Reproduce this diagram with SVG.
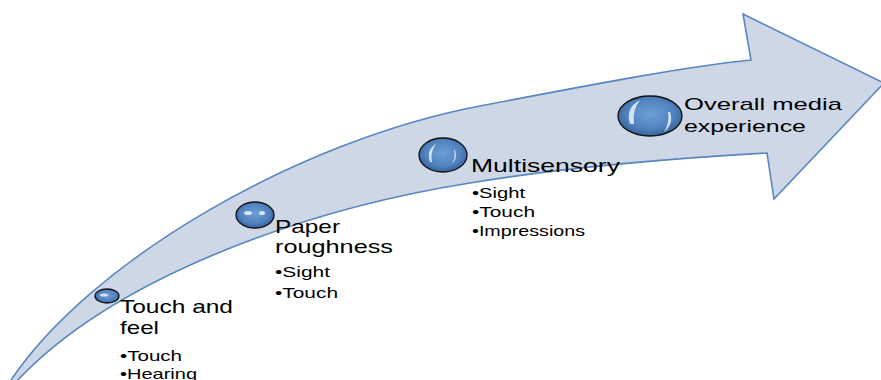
<svg xmlns="http://www.w3.org/2000/svg" width="881" height="380" viewBox="0 0 881 380">
<defs>
<radialGradient id="orb" cx="50%" cy="45%" r="55%">
<stop offset="0" stop-color="#6F9FD6"/>
<stop offset="0.7" stop-color="#4F81BD"/>
<stop offset="1" stop-color="#35619A"/>
</radialGradient>
</defs>
<style>
.arrow{fill:#CDD7E6;stroke:#5A86C0;stroke-width:1.6;stroke-linejoin:miter}
.orb{fill:url(#orb);stroke:#111;stroke-width:1.3}
.hl{fill:#FFFFFF;opacity:0.75}
.t{font-family:"Liberation Sans",Arial,sans-serif;fill:#000}
.h{font-size:19px}
.b{font-size:15px}
</style>
<g id="arrow">
<path class="arrow" d="M9,383 C90,260 300,140 480,106 C600,83 690,66 751,60 L743,14 L884,83 L774,199 L767,153 C680,158 560,168 470,183 C300,210 110,280 15,383 Z"/>
</g>
<g id="node-touch-feel">
<ellipse class="orb" cx="107" cy="296" rx="12" ry="7"/>
<ellipse class="hl" cx="104" cy="295" rx="4" ry="1.5"/>
<text class="t h" x="120" y="313" textLength="113" lengthAdjust="spacingAndGlyphs">Touch and</text>
<text class="t h" x="120" y="334" textLength="39" lengthAdjust="spacingAndGlyphs">feel</text>
<text class="t b" x="120" y="361" textLength="62" lengthAdjust="spacingAndGlyphs">•Touch</text>
<text class="t b" x="120" y="379" textLength="77" lengthAdjust="spacingAndGlyphs">•Hearing</text>
</g>
<g id="node-paper">
<ellipse class="orb" cx="255" cy="215" rx="19" ry="13"/>
<ellipse class="hl" cx="248" cy="213" rx="4" ry="2"/>
<ellipse class="hl" cx="262" cy="213" rx="3" ry="2"/>
<text class="t h" x="275" y="233" textLength="65" lengthAdjust="spacingAndGlyphs">Paper</text>
<text class="t h" x="275" y="253" textLength="118" lengthAdjust="spacingAndGlyphs">roughness</text>
<text class="t b" x="275" y="277" textLength="55" lengthAdjust="spacingAndGlyphs">•Sight</text>
<text class="t b" x="275" y="298" textLength="63" lengthAdjust="spacingAndGlyphs">•Touch</text>
</g>
<g id="node-multisensory">
<ellipse class="orb" cx="443" cy="155" rx="24" ry="17"/>
<path class="hl" d="M430,162 Q426,150 436,144 Q430,152 432,162 Z"/>
<path class="hl" d="M455,150 Q458,158 452,164 Q456,156 454,150 Z"/>
<text class="t h" x="471" y="172" textLength="149" lengthAdjust="spacingAndGlyphs">Multisensory</text>
<text class="t b" x="472" y="198" textLength="53" lengthAdjust="spacingAndGlyphs">•Sight</text>
<text class="t b" x="472" y="217" textLength="63" lengthAdjust="spacingAndGlyphs">•Touch</text>
<text class="t b" x="472" y="236" textLength="113" lengthAdjust="spacingAndGlyphs">•Impressions</text>
</g>
<g id="node-overall">
<ellipse class="orb" cx="650" cy="116" rx="32" ry="20"/>
<path class="hl" d="M630,124 Q625,108 640,100 Q632,110 634,124 Z"/>
<path class="hl" d="M670,112 Q674,124 664,132 Q670,122 668,112 Z"/>
<text class="t" style="font-size:17px" x="684" y="110" textLength="158" lengthAdjust="spacingAndGlyphs">Overall media</text>
<text class="t" style="font-size:17px" x="684" y="132" textLength="122" lengthAdjust="spacingAndGlyphs">experience</text>
</g>
</svg>
